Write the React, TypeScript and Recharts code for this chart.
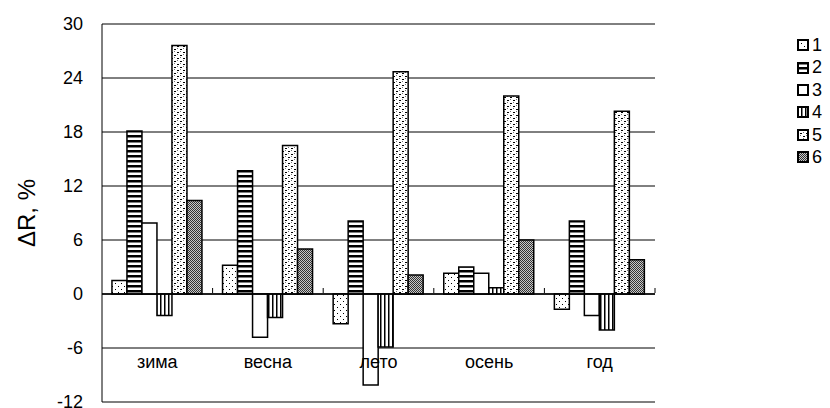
import React from "react";
import {
  BarChart,
  Bar,
  XAxis,
  YAxis,
  CartesianGrid,
  ReferenceLine,
  Legend,
} from "recharts";

const seasons = ["зима", "весна", "лето", "осень", "год"];
const series1 = [1.5, 3.2, -3.3, 2.3, -1.7];
const series2 = [18.1, 13.7, 8.1, 3.0, 8.1];
const series3 = [7.9, -4.8, -10.1, 2.3, -2.4];
const series4 = [-2.4, -2.6, -5.9, 0.7, -4.0];
const series5 = [27.6, 16.5, 24.7, 22.0, 20.3];
const series6 = [10.4, 5.0, 2.1, 6.0, 3.8];
const seriesNames = ["1", "2", "3", "4", "5", "6"];
const yTicks = [-12, -6, 0, 6, 12, 18, 24, 30];

const data = seasons.map((name, i) => ({
  name,
  s1: series1[i],
  s2: series2[i],
  s3: series3[i],
  s4: series4[i],
  s5: series5[i],
  s6: series6[i],
}));

const FILLS = [
  "url(#p1)",
  "url(#p2)",
  "#ffffff",
  "url(#p4)",
  "url(#p5)",
  "url(#p6)",
];

const FONT = "'Liberation Sans', Arial, sans-serif";

// category labels sit low in the plot, the little separators stand on the zero line
const CategoryTick = (props: any) => {
  const { x, y, payload } = props;
  const off = payload.offset || 0;
  return (
    <g>
      <text
        x={x}
        y={y - 47}
        textAnchor="middle"
        dominantBaseline="middle"
        fontFamily={FONT}
        fontSize={18}
        fill="#000"
      >
        {payload.value}
      </text>
      <line x1={x + off} x2={x + off} y1={y - 117} y2={y - 122} stroke="#000" />
    </g>
  );
};

const LegendContent = () => (
  <div style={{ fontFamily: FONT, fontSize: 18, lineHeight: "22.4px" }}>
    {seriesNames.map((n, i) => (
      <div key={n} style={{ display: "flex", alignItems: "center" }}>
        <svg width={12} height={12} style={{ marginRight: 3 }}>
          <rect
            x={1}
            y={1}
            width={10}
            height={10}
            fill={FILLS[i]}
            stroke="#000"
            strokeWidth={2}
          />
        </svg>
        <span>{n}</span>
      </div>
    ))}
  </div>
);

export default function App() {
  return (
    <div style={{ position: "absolute", left: 0, top: 0, background: "#fff" }}>
      <BarChart
        width={830}
        height={408}
        data={data}
        margin={{ top: 24, right: 142, bottom: 5, left: 0 }}
        barCategoryGap="9%"
        barGap={0}
      >
        <defs>
          <pattern id="p1" width="6" height="6" patternUnits="userSpaceOnUse">
            <rect width="6" height="6" fill="#fff" />
            <rect x="1" y="1" width="1" height="1" fill="#000" />
            <rect x="4" y="4" width="1" height="1" fill="#000" />
          </pattern>
          <pattern id="p2" width="4" height="5" patternUnits="userSpaceOnUse">
            <rect width="4" height="5" fill="#fff" />
            <rect width="4" height="2.5" fill="#000" />
          </pattern>
          <pattern id="p4" width="4" height="4" patternUnits="userSpaceOnUse">
            <rect width="4" height="4" fill="#fff" />
            <rect width="1.5" height="4" fill="#000" />
          </pattern>
          <pattern id="p5" width="6" height="6" patternUnits="userSpaceOnUse">
            <rect width="6" height="6" fill="#fff" />
            <rect x="0" y="1" width="2" height="1" fill="#000" />
            <rect x="3" y="4" width="2" height="1" fill="#000" />
            <rect x="3" y="0" width="1" height="1" fill="#777" />
            <rect x="0" y="3" width="1" height="1" fill="#777" />
          </pattern>
          <pattern id="p6" width="2" height="2" patternUnits="userSpaceOnUse">
            <rect width="2" height="2" fill="#c8c8c8" />
            <rect width="1" height="1" fill="#333" />
            <rect x="1" y="1" width="1" height="1" fill="#333" />
          </pattern>
        </defs>
        <CartesianGrid vertical={false} stroke="#000" strokeWidth={1} />
        <XAxis
          dataKey="name"
          axisLine={false}
          tickLine={false}
          height={1}
          tick={<CategoryTick />}
          interval={0}
        />
        <YAxis
          domain={[-12, 30]}
          ticks={yTicks}
          interval={0}
          width={102}
          tickLine={false}
          axisLine={{ stroke: "#000" }}
          tickMargin={13}
          tick={{ fill: "#000", fontFamily: FONT, fontSize: 18 }}
          label={{
            value: "ΔR, %",
            angle: -90,
            position: "insideLeft",
            offset: 26,
            style: { textAnchor: "middle", fontFamily: FONT, fontSize: 24, fill: "#000" },
          }}
        />
        <YAxis
          yAxisId="frame"
          orientation="right"
          domain={[-12, 30]}
          width={0}
          tick={false}
          tickLine={false}
          axisLine={{ stroke: "#000" }}
        />
        <ReferenceLine y={0} stroke="#000" strokeWidth={1.5} />
        {["s1", "s2", "s3", "s4", "s5", "s6"].map((k, i) => (
          <Bar
            key={k}
            dataKey={k}
            name={seriesNames[i]}
            fill={FILLS[i]}
            stroke="#000"
            strokeWidth={1.5}
            isAnimationActive={false}
          />
        ))}
        <Legend
          layout="vertical"
          align="right"
          verticalAlign="top"
          content={<LegendContent />}
          wrapperStyle={{ left: 797, top: 34, width: 33 }}
        />
      </BarChart>
    </div>
  );
}
